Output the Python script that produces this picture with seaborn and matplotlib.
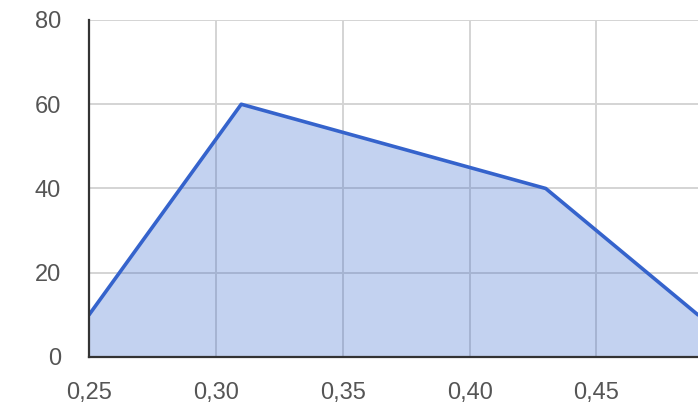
import matplotlib
matplotlib.use("Agg")
import matplotlib.pyplot as plt
import seaborn as sns
import pandas as pd
from matplotlib.ticker import FuncFormatter

# Series values
x_vals = [0.25, 0.31, 0.43, 0.49]
y_vals = [10, 60, 40, 10]
x_ticks = [0.25, 0.30, 0.35, 0.40, 0.45]
y_ticks = [0, 20, 40, 60, 80]

df = pd.DataFrame({"x": x_vals, "y": y_vals})

sns.set_theme(style="whitegrid")
plt.rcParams["font.family"] = ["Liberation Sans", "DejaVu Sans"]

fig = plt.figure(figsize=(6.98, 4.13), dpi=100)
ax = fig.add_axes([0.1275, 0.1356, 0.8725, 0.816])

line_color = "#3563cc"

ax.grid(True, color="#d4d4d4", linewidth=1.4, zorder=0)
ax.set_axisbelow(True)

# Translucent area under the line, letting the grid show through
ax.fill_between(df["x"], df["y"], 0, color="#3366cc", alpha=0.29, zorder=1, linewidth=0)
sns.lineplot(data=df, x="x", y="y", ax=ax, color=line_color, linewidth=2.6, zorder=3)

ax.set_xlim(0.25, 0.49)
ax.set_ylim(0, 80)
ax.set_xticks(x_ticks)
ax.set_yticks(y_ticks)
ax.xaxis.set_major_formatter(FuncFormatter(lambda v, p: f"{v:.2f}".replace(".", ",")))
ax.set_xlabel("")
ax.set_ylabel("")

for s in ["top", "right"]:
    ax.spines[s].set_visible(False)
for s in ["left", "bottom"]:
    ax.spines[s].set_visible(True)
    ax.spines[s].set_color("#333333")
    ax.spines[s].set_linewidth(1.6)
    ax.spines[s].set_zorder(4)

ax.tick_params(axis="y", labelsize=17, colors="#555555", pad=20, length=0)
ax.tick_params(axis="x", labelsize=17, colors="#555555", pad=18, length=0)
ax.set_facecolor("white")

fig.savefig("out.png", dpi=100)
